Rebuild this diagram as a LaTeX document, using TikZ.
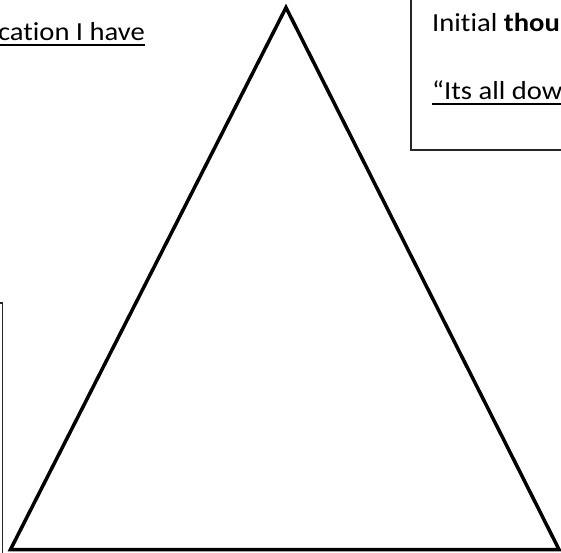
\documentclass[tikz,border=0pt]{standalone}
\usepackage{fontspec}
\setmainfont[FakeStretch=1.1, Ligatures=NoCommon]{Carlito}
\usetikzlibrary{positioning}
\newcommand\ulinetext[1]{\setbox0\hbox{#1}\rlap{\rule[-5.5pt]{\wd0}{2pt}}\box0}

\begin{document}
\begin{tikzpicture}[x=1pt,y=-1pt]
\tikzset{
  frame/.style={line width=1.3pt, black!85},
  tri/.style={line width=3.5pt, line join=miter},
  txt/.style={font=\fontsize{26}{31}\selectfont, inner sep=0pt}
}
\useasboundingbox (0,0) rectangle (561,552);

% left text
\node[txt, anchor=base east] (havetxt) at (145,40) {\ulinetext{cation I have}};

% box on the right
\draw[frame] (411,-5) rectangle (575,150);
\node[txt, anchor=base west] (initial) at (432,31) {Initial \textbf{thou}};
\node[txt, anchor=base west] (quote) at (432,99) {\ulinetext{“Its all dow}};

% box on the left
\draw[frame] (-10,303) -- (2.5,303) -- (2.5,560);

% triangle
\coordinate (apex) at (286,7.5);
\coordinate (bl) at (10.5,549.5);
\coordinate (br) at (559,549.5);
\draw[tri] (apex) -- (bl) -- (br) -- cycle;
\end{tikzpicture}
\end{document}
